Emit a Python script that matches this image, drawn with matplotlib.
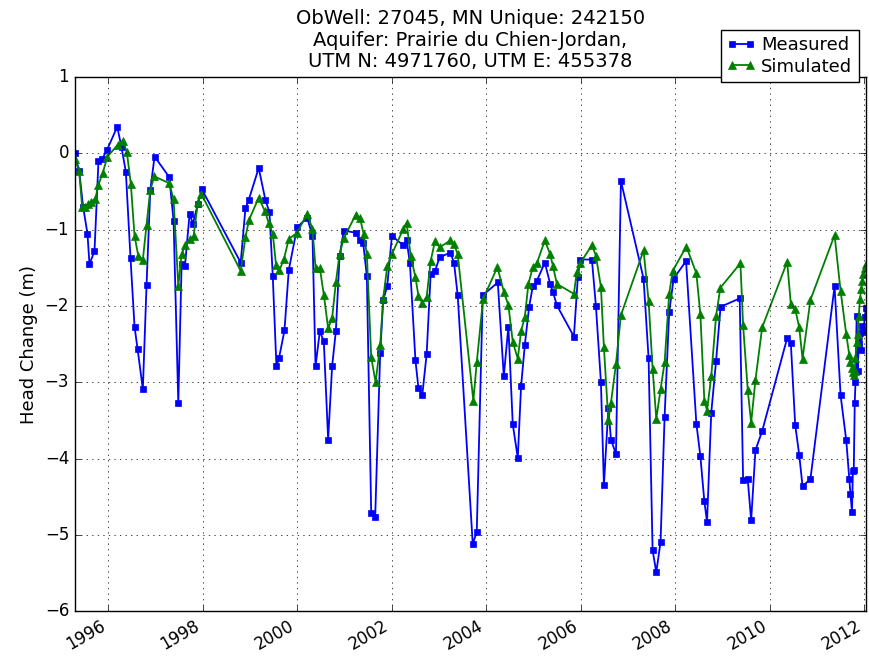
import matplotlib
matplotlib.use("Agg")
from matplotlib import pyplot as plt

plt.style.use("classic")

# observation dates as decimal years, head change in metres
measured_year = [
    1995.292, 1995.386, 1995.470, 1995.561, 1995.604, 1995.710, 1995.794, 1995.873,
    1995.970, 1996.191, 1996.282, 1996.373, 1996.472, 1996.557, 1996.621, 1996.733,
    1996.811, 1996.890, 1996.981, 1997.292, 1997.383, 1997.483, 1997.553, 1997.623,
    1997.722, 1997.792, 1997.898, 1997.983, 1998.803, 1998.903, 1998.972, 1999.184,
    1999.326, 1999.411, 1999.481, 1999.559, 1999.614, 1999.729, 1999.820, 1999.996,
    2000.208, 2000.322, 2000.386, 2000.477, 2000.561, 2000.653, 2000.737, 2000.816,
    2000.894, 2000.985, 2001.239, 2001.324, 2001.394, 2001.472, 2001.564, 2001.648,
    2001.754, 2001.818, 2001.903, 2002.002, 2002.235, 2002.314, 2002.383, 2002.500,
    2002.564, 2002.644, 2002.737, 2002.822, 2002.913, 2003.013, 2003.237, 2003.316,
    2003.394, 2003.712, 2003.797, 2003.924, 2004.242, 2004.369, 2004.466, 2004.559,
    2004.665, 2004.735, 2004.814, 2004.905, 2004.983, 2005.068, 2005.237, 2005.350,
    2005.407, 2005.492, 2005.852, 2005.936, 2005.985, 2006.233, 2006.318, 2006.424,
    2006.487, 2006.581, 2006.636, 2006.742, 2006.847, 2007.326, 2007.432, 2007.517,
    2007.595, 2007.686, 2007.771, 2007.868, 2007.962, 2008.225, 2008.443, 2008.528,
    2008.612, 2008.669, 2008.758, 2008.860, 2008.955, 2009.360, 2009.432, 2009.530,
    2009.602, 2009.693, 2009.835, 2010.364, 2010.441, 2010.534, 2010.619, 2010.689,
    2010.856, 2011.367, 2011.494, 2011.614, 2011.678, 2011.703, 2011.735, 2011.755,
    2011.773, 2011.794, 2011.809, 2011.834, 2011.856, 2011.879, 2011.904, 2011.930,
    2011.953, 2011.978, 2012.004, 2012.031,
]
measured = [
    0.00, -0.23, -0.70, -1.05, -1.45, -1.28, -0.10, -0.07,
    0.04, 0.35, 0.08, -0.24, -1.37, -2.27, -2.56, -3.09,
    -1.73, -0.48, -0.04, -0.31, -0.88, -3.27, -1.45, -1.48,
    -0.79, -0.92, -0.66, -0.47, -1.43, -0.72, -0.61, -0.19,
    -0.61, -0.77, -1.60, -2.79, -2.68, -2.32, -1.53, -0.97,
    -0.84, -1.08, -2.79, -2.33, -2.46, -3.75, -2.79, -2.33,
    -1.35, -1.01, -1.04, -1.14, -1.17, -1.61, -4.71, -4.77,
    -2.62, -1.92, -1.74, -1.08, -1.20, -1.14, -1.44, -2.71,
    -3.08, -3.17, -2.63, -1.58, -1.54, -1.36, -1.30, -1.43,
    -1.86, -5.12, -4.96, -1.86, -1.69, -2.92, -2.27, -3.55,
    -3.99, -3.05, -2.51, -2.01, -1.74, -1.67, -1.43, -1.71,
    -1.81, -1.99, -2.40, -1.62, -1.39, -1.39, -2.00, -3.00,
    -4.35, -3.34, -3.75, -3.94, -0.36, -1.64, -2.68, -5.20,
    -5.49, -5.09, -3.45, -2.08, -1.64, -1.41, -3.54, -3.97,
    -4.56, -4.83, -3.40, -2.72, -2.01, -1.90, -4.28, -4.27,
    -4.81, -3.89, -3.64, -2.42, -2.48, -3.56, -3.95, -4.36,
    -4.27, -1.74, -3.17, -3.76, -4.27, -4.46, -4.70, -4.16,
    -4.15, -3.27, -3.00, -2.13, -2.85, -2.50, -2.35, -2.58,
    -2.26, -2.34, -2.15, -2.02,
]

simulated_year = [
    1995.292, 1995.386, 1995.449, 1995.504, 1995.576, 1995.631, 1995.725, 1995.794,
    1995.886, 1995.985, 1996.197, 1996.309, 1996.394, 1996.479, 1996.557, 1996.636,
    1996.733, 1996.811, 1996.890, 1996.975, 1997.292, 1997.383, 1997.483, 1997.553,
    1997.627, 1997.737, 1997.807, 1997.898, 1997.970, 1998.803, 1998.903, 1998.979,
    1999.184, 1999.311, 1999.396, 1999.481, 1999.551, 1999.623, 1999.720, 1999.820,
    1999.996, 2000.208, 2000.322, 2000.386, 2000.477, 2000.561, 2000.653, 2000.737,
    2000.816, 2000.894, 2000.985, 2001.239, 2001.324, 2001.403, 2001.472, 2001.564,
    2001.657, 2001.754, 2001.818, 2001.903, 2002.002, 2002.242, 2002.314, 2002.398,
    2002.500, 2002.564, 2002.644, 2002.737, 2002.822, 2002.913, 2003.013, 2003.237,
    2003.316, 2003.394, 2003.725, 2003.797, 2003.930, 2004.233, 2004.369, 2004.466,
    2004.559, 2004.665, 2004.735, 2004.814, 2004.890, 2004.983, 2005.068, 2005.237,
    2005.350, 2005.407, 2005.492, 2005.852, 2005.915, 2005.985, 2006.233, 2006.318,
    2006.424, 2006.487, 2006.581, 2006.636, 2006.742, 2006.847, 2007.326, 2007.432,
    2007.517, 2007.595, 2007.686, 2007.771, 2007.868, 2007.941, 2008.231, 2008.443,
    2008.528, 2008.612, 2008.669, 2008.758, 2008.860, 2008.951, 2009.375, 2009.432,
    2009.530, 2009.602, 2009.693, 2009.835, 2010.364, 2010.441, 2010.534, 2010.619,
    2010.689, 2010.856, 2011.367, 2011.494, 2011.614, 2011.678, 2011.703, 2011.735,
    2011.755, 2011.773, 2011.794, 2011.809, 2011.834, 2011.856, 2011.879, 2011.904,
    2011.930, 2011.953, 2011.978, 2012.004, 2012.031,
]
simulated = [
    -0.07, -0.23, -0.70, -0.70, -0.66, -0.63, -0.60, -0.41,
    -0.25, -0.04, 0.11, 0.17, 0.02, -0.40, -1.08, -1.34,
    -1.39, -0.94, -0.48, -0.30, -0.39, -0.60, -1.74, -1.32,
    -1.20, -1.12, -1.08, -0.64, -0.53, -1.54, -1.10, -0.87,
    -0.58, -0.75, -0.91, -1.05, -1.46, -1.53, -1.38, -1.12,
    -1.04, -0.79, -0.99, -1.50, -1.50, -1.85, -2.29, -2.16,
    -1.69, -1.32, -1.11, -0.80, -0.84, -1.05, -1.32, -2.67,
    -3.00, -2.51, -1.90, -1.48, -1.32, -0.99, -0.91, -1.34,
    -1.62, -1.87, -1.96, -1.88, -1.41, -1.15, -1.23, -1.14,
    -1.19, -1.32, -3.24, -2.74, -1.91, -1.49, -1.81, -1.99,
    -2.47, -2.69, -2.33, -2.14, -1.71, -1.49, -1.44, -1.14,
    -1.32, -1.47, -1.71, -1.84, -1.55, -1.44, -1.20, -1.34,
    -1.75, -2.54, -3.50, -3.27, -2.76, -2.12, -1.27, -1.93,
    -2.82, -3.48, -3.09, -2.74, -1.84, -1.54, -1.22, -1.57,
    -2.11, -3.24, -3.37, -2.92, -2.13, -1.76, -1.44, -2.25,
    -3.10, -3.53, -2.97, -2.28, -1.42, -1.97, -2.04, -2.28,
    -2.69, -1.92, -1.07, -1.80, -2.37, -2.64, -2.73, -2.81,
    -2.87, -2.91, -2.85, -2.68, -2.47, -2.37, -2.13, -1.91,
    -1.78, -1.67, -1.58, -1.50, -1.45,
]

title = ("ObWell: 27045, MN Unique: 242150\n"
         "Aquifer: Prairie du Chien-Jordan,\n"
         "UTM N: 4971760, UTM E: 455378")
year_ticks = list(range(1996, 2013, 2))

fig = plt.figure(figsize=(8.69, 6.6), dpi=100, facecolor="white")
ax = fig.add_axes([0.086, 0.074, 0.9105, 0.809])

ax.plot(measured_year, measured, color="b", marker="s", markersize=5,
        markeredgecolor="b", linewidth=1.3, label="Measured")
ax.plot(simulated_year, simulated, color="g", marker="^", markersize=6,
        markeredgecolor="g", linewidth=1.3, label="Simulated")

ax.set_xlim(min(measured_year), max(measured_year))
ax.set_ylim(-6, 1)
ax.set_xticks(year_ticks)
ax.set_xticklabels([str(y) for y in year_ticks], rotation=30, ha="right")
ax.set_ylabel("Head Change (m)", fontsize=13)
ax.set_title(title, fontsize=14, linespacing=1.17, pad=7)
ax.grid(True)

ax.legend(loc="upper right", bbox_to_anchor=(0.988, 0.955),
          bbox_transform=fig.transFigure, borderaxespad=0, fontsize=13,
          numpoints=2, handlelength=1.6, handletextpad=0.3,
          labelspacing=0.2, borderpad=0.35)

fig.savefig("out.png", dpi=100, facecolor="white")
